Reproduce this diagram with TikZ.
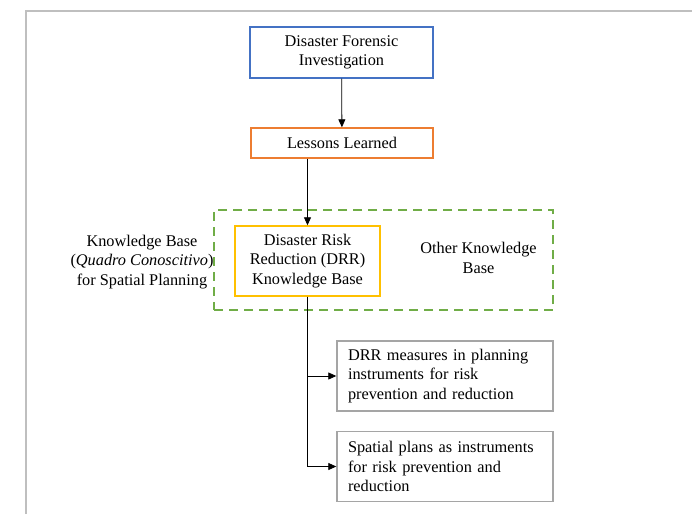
\documentclass[tikz,border=0pt]{standalone}
\usepackage{fontspec}
\setmainfont{Liberation Serif}
\newfontfamily\tnrfont{Liberation Serif}
\usetikzlibrary{arrows.meta}
\definecolor{cblue}{HTML}{4472C4}
\definecolor{corange}{HTML}{ED7D31}
\definecolor{cyellow}{HTML}{FFC000}
\definecolor{cgreen}{HTML}{70AD47}
\definecolor{cgray}{HTML}{A5A5A5}
\definecolor{cframe}{HTML}{BFBFBF}
\begin{document}
\begin{tikzpicture}[x=1pt,y=-1pt,
  every node/.style={font=\tnrfont\fontsize{16.3}{19.6}\selectfont, inner sep=0pt},
  box/.style={draw, line width=1.4pt, align=center},
  leftbox/.style={draw=cgray, line width=1.4pt, align=left, text width=194pt, inner xsep=11pt, minimum height=70pt, execute at begin node={\hyphenpenalty=10000\exhyphenpenalty=10000}},
  conn/.style={line width=0.8pt, -{Triangle[length=8pt,width=7pt]}}
]
\useasboundingbox (0,0) rectangle (692,514);
\draw[cframe, line width=1.5pt] (26,514) -- (26,11) -- (692,11);

\node[box, draw=cblue, minimum width=183pt, minimum height=51pt] (fi) at (341.5,52.5) {Disaster Forensic\\Investigation};
\node[box, draw=corange, minimum width=182pt, minimum height=30pt] (ll) at (342,143) {Lessons Learned};
\node[draw=cgreen, line width=2pt, dash pattern=on 9pt off 6pt, minimum width=339pt, minimum height=100pt] (kb) at (383.5,260) {};
\node[box, draw=cyellow, minimum width=145pt, minimum height=70pt] (drr) at (307.5,261) {Disaster Risk\\Reduction (DRR)\\Knowledge Base};
\node[align=center] (okb) at (478.5,258) {Other Knowledge\\Base};
\node[align=center] (qc) at (142,262) {Knowledge Base\\(\textit{Quadro Conoscitivo})\\for Spatial Planning};
\node[leftbox] (m1) at (445,376) {DRR measures in planning\\instruments for risk\\prevention and reduction};
\node[leftbox] (m2) at (445,466.5) {Spatial plans as instruments\\for risk prevention and\\reduction};

\draw[conn] (fi) -- (ll);
\draw[conn] (drr.north |- ll.south) -- (drr.north);
\draw[conn] (drr.south) |- (m1.west);
\draw[conn] (drr.south) |- (m2.west);
\end{tikzpicture}
\end{document}
